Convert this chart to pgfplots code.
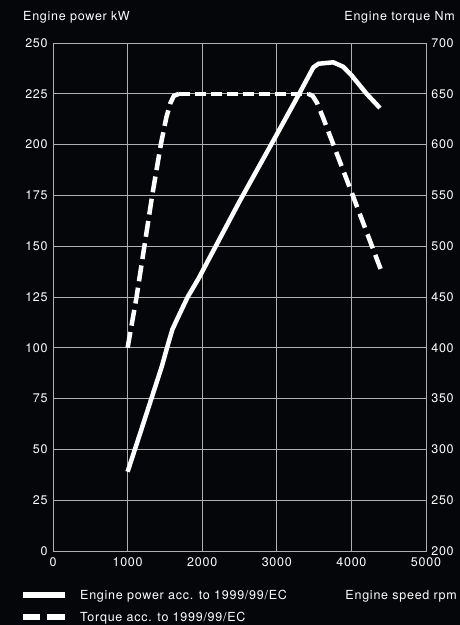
\documentclass[border=0pt]{standalone}
\usepackage{pgfplots}
\pgfplotsset{compat=1.18}
\usepackage{fontspec}
\setmainfont{TeX Gyre Heros}[LetterSpace=6]
\definecolor{bg}{HTML}{05060A}
\definecolor{gridc}{HTML}{B0B0B0}

\pgfplotsset{
  engine/.style={
    scale only axis, width=373pt, height=508pt,
    at={(0,0)}, anchor=south west,
    xmin=0, xmax=5000,
    major tick length=0pt,
    tick label style={white, font=\fontsize{12.5}{14}\selectfont},
    /pgf/number format/assume math mode=true,
    /pgf/number format/1000 sep={},
    axis line style={gridc, line width=0.9pt},
  },
  torque/.style={white, line width=4.5pt, line join=round},
}

\begin{document}
\fontsize{12.5}{14}\selectfont
\begin{tikzpicture}[x=1pt,y=1pt]
\fill[bg] (-53,-74) rectangle (407,551);

% power, left axis
\begin{axis}[engine,
  ymin=0, ymax=250,
  xtick={0,1000,...,5000},
  ytick={0,25,...,250},
  grid=major, grid style={gridc, line width=0.8pt},
  xticklabel style={yshift=-2pt},
  yticklabel style={xshift=-1pt},
]
\addplot[white, line width=4.5pt, line join=round] coordinates {
  (1000,39)(1200,61.5)(1460,91)(1540,101.5)(1600,109)(1650,113)
  (1805,125)(1950,134)(2500,172)(3000,205)(3300,225)(3490,238)
  (3560,239.8)(3757,240.5)(3890,238.3)(4004,234)(4204,225)(4383,218)
};
\end{axis}

% torque, right axis
\begin{axis}[engine,
  ymin=200, ymax=700,
  axis x line=none,
  axis y line*=right,
  ytick={200,250,...,700},
  yticklabel style={xshift=1pt},
]
\addplot[torque, dash pattern=on 16pt off 6.5pt] coordinates {
  (1000,400)(1120,450)(1225,500)(1330,550)(1445,600)(1520,627)
  (1575,641)(1620,648)(1690,650)
};
\addplot[torque, dash pattern=on 10.5pt off 5.5pt] coordinates {
  (1690,650)(3420,650)
};
\addplot[torque, dash pattern=on 15pt off 7pt] coordinates {
  (3420,650)(3480,648)(3540,641)(3623,626)(4008,552)(4410,474)
};
\end{axis}

% titles
\node[white, inner sep=0, anchor=base west] at (-30,530) {Engine power kW};
\node[white, inner sep=0, anchor=base east] at (402,530) {Engine torque Nm};
\node[white, inner sep=0, anchor=base east] at (404,-48) {Engine speed rpm};

% legend
\draw[white, line width=5.5pt] (-30,-44) -- (12,-44);
\node[white, inner sep=0, anchor=base west] at (27,-48) {Engine power acc. to 1999/99/EC};
\draw[white, line width=5.5pt] (-30,-66) -- (-13,-66);
\draw[white, line width=5.5pt] (-6,-66) -- (12,-66);
\node[white, inner sep=0, anchor=base west] at (27,-70) {Torque acc. to 1999/99/EC};
\end{tikzpicture}
\end{document}
